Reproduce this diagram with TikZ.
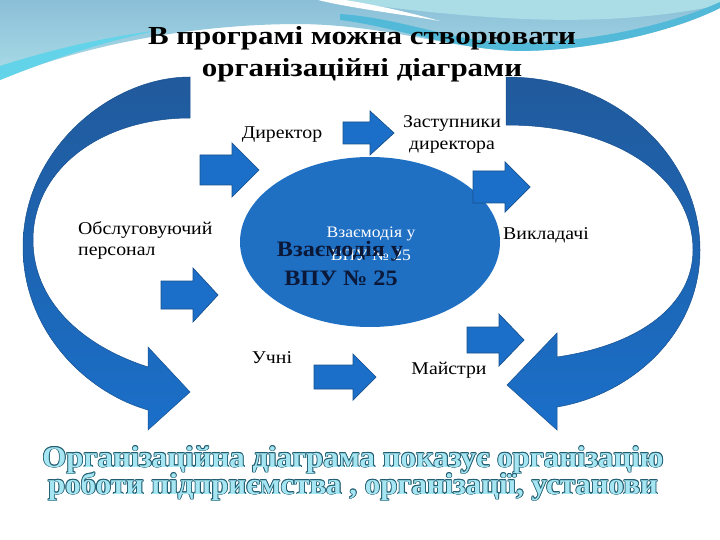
\documentclass[tikz,border=0pt]{standalone}
\usepackage{fontspec}
\setmainfont{Liberation Serif}
\newfontfamily\titlefont[FakeStretch=1.19]{Liberation Serif}
\newfontfamily\labelfont[FakeStretch=1.1]{Liberation Serif}
\newfontfamily\wordfont[FakeStretch=1.03]{Liberation Serif}
\usetikzlibrary{shapes.geometric}
\definecolor{skyblue}{HTML}{8BBFD8}
\definecolor{skylight}{HTML}{ABDDE7}
\definecolor{skycyan}{HTML}{62D3E8}
\definecolor{tealband}{HTML}{52BAD8}
\definecolor{arctop}{HTML}{215A9C}
\definecolor{arcbottom}{HTML}{1A6FC9}
\definecolor{arrowblue}{HTML}{1B6FC8}
\definecolor{arrowedge}{HTML}{17508F}
\definecolor{ellblue}{HTML}{1F6FC3}
\definecolor{darktext}{HTML}{0B1838}
\definecolor{wordfill}{HTML}{A6E6F2}
\definecolor{wordedge}{HTML}{1F5C70}
% block arrow: shaft start, head base, tip, middle y, half shaft, half head
\newcommand{\blockarrow}[6]{%
  \draw[blockarrow] (#1,#4-#5) -- (#2,#4-#5) -- (#2,#4-#6) -- (#3,#4)
    -- (#2,#4+#6) -- (#2,#4+#5) -- (#1,#4+#5) -- cycle;}
% outlined word art text
\newcommand{\olcopy}[3]{\rlap{\hspace*{#1}\raisebox{#2}{#3}}}
\newcommand{\outlined}[1]{%
  {\color{wordedge}%
   \olcopy{-0.8pt}{0pt}{#1}\olcopy{0.8pt}{0pt}{#1}%
   \olcopy{0pt}{0.8pt}{#1}\olcopy{0pt}{-0.8pt}{#1}%
   \olcopy{-0.6pt}{0.6pt}{#1}\olcopy{0.6pt}{0.6pt}{#1}%
   \olcopy{-0.6pt}{-0.6pt}{#1}\olcopy{0.6pt}{-0.6pt}{#1}}%
  {\color{wordfill}#1}}
\begin{document}
\begin{tikzpicture}[x=1pt,y=-1pt,
  every node/.append style={inner sep=0pt},
  blockarrow/.style={fill=arrowblue,draw=arrowedge,line width=0.7pt},
  bigarc/.style={top color=arctop,bottom color=arcbottom,draw=arrowedge,line width=0.5pt},
  lbl/.style={font=\labelfont\fontsize{18}{20}\selectfont,anchor=base},
  ttl/.style={font=\titlefont\bfseries\fontsize{26}{30}\selectfont,anchor=base},
  core/.style={font=\labelfont\fontsize{16}{18}\selectfont,text=white,anchor=base},
  coredark/.style={font=\labelfont\bfseries\fontsize{22}{24}\selectfont,text=darktext,anchor=base},
  wordart/.style={font=\wordfont\bfseries\fontsize{30}{32}\selectfont,anchor=base}]
\useasboundingbox (0,0) rectangle (720,540);
\fill[white] (0,0) rectangle (720,540);
% background waves
\shade[top color=skyblue,bottom color=skylight,shading angle=0] (0,0) -- (720,0) -- (720,8)
  .. controls (660,38) and (560,55) .. (500,50)
  .. controls (440,45) and (380,25) .. (300,24)
  .. controls (180,24) and (70,50) .. (0,80) -- cycle;
\fill[skylight] (330,0) -- (720,0) -- (720,5) .. controls (600,30) and (480,20) .. (330,0) -- cycle;
\fill[tealband] (340,14) .. controls (400,18) and (450,40) .. (500,42)
  .. controls (580,46) and (670,25) .. (720,2) -- (720,8)
  .. controls (660,38) and (560,55) .. (500,50)
  .. controls (440,45) and (390,26) .. (340,20) -- cycle;
\fill[white] (318,0) .. controls (350,8) and (400,14) .. (440,21)
  .. controls (400,10) and (370,4) .. (345,0) -- cycle;
\fill[skycyan] (0,66) .. controls (50,50) and (100,38) .. (160,30)
  .. controls (100,42) and (50,60) .. (0,80) -- cycle;
% title
\node[ttl] (title1) at (362,45) {В програмі можна створювати};
\node[ttl] (title2) at (362,77) {організаційні діаграми};
% big curved arrows
\shade[bigarc] (190,77) .. controls (110,77) and (23,150) .. (23,247)
  .. controls (23,330) and (85,392) .. (148,410)
  -- (148,430) -- (190,392) -- (148,347) -- (148,367)
  .. controls (80,345) and (33,300) .. (33,240)
  .. controls (33,170) and (100,118) .. (190,118) -- cycle;
\shade[bigarc] (506,77) .. controls (620,77) and (700,160) .. (700,250)
  .. controls (700,335) and (630,395) .. (557,407)
  -- (557,430) -- (507,385) -- (557,333) -- (557,357)
  .. controls (640,345) and (693,305) .. (693,250)
  .. controls (693,180) and (620,125) .. (506,125) -- cycle;
% centre
\node[ellipse,fill=ellblue,minimum width=260pt,minimum height=170pt] (vpu) at (370,242) {};
\node[core] (vpuw1) at (371,237) {Взаємодія у};
\node[core] (vpuw2) at (371,260) {ВПУ № 25};
\node[coredark] (vpud1) at (340,256) {Взаємодія у};
\node[coredark] (vpud2) at (341,285) {ВПУ № 25};
% small arrows
\blockarrow{343}{370}{394}{133}{11}{22}
\blockarrow{200}{232}{259}{170}{15}{27}
\blockarrow{473}{505}{530}{187}{16}{25}
\blockarrow{161}{193}{218}{295}{14}{27}
\blockarrow{314}{353}{376}{377}{12}{23}
\blockarrow{467}{499}{524}{340}{13}{26}
% labels
\node[lbl] (dir) at (282,139) {Директор};
\node[lbl] (zast1) at (452,128) {Заступники};
\node[lbl] (zast2) at (452,150) {директора};
\node[lbl,anchor=base west] (obsl1) at (78,234) {Обслуговуючий};
\node[lbl,anchor=base west] (obsl2) at (78,255) {персонал};
\node[lbl,anchor=base west] (vykl) at (503,240) {Викладачі};
\node[lbl] (uchni) at (272,363) {Учні};
\node[lbl] (maist) at (449,374) {Майстри};
% word art
\node[wordart] (note1) at (353,467) {\outlined{Організаційна діаграма показує організацію}};
\node[wordart] (note2) at (353,494) {\outlined{роботи підприємства , організації, установи}};
\end{tikzpicture}
\end{document}
